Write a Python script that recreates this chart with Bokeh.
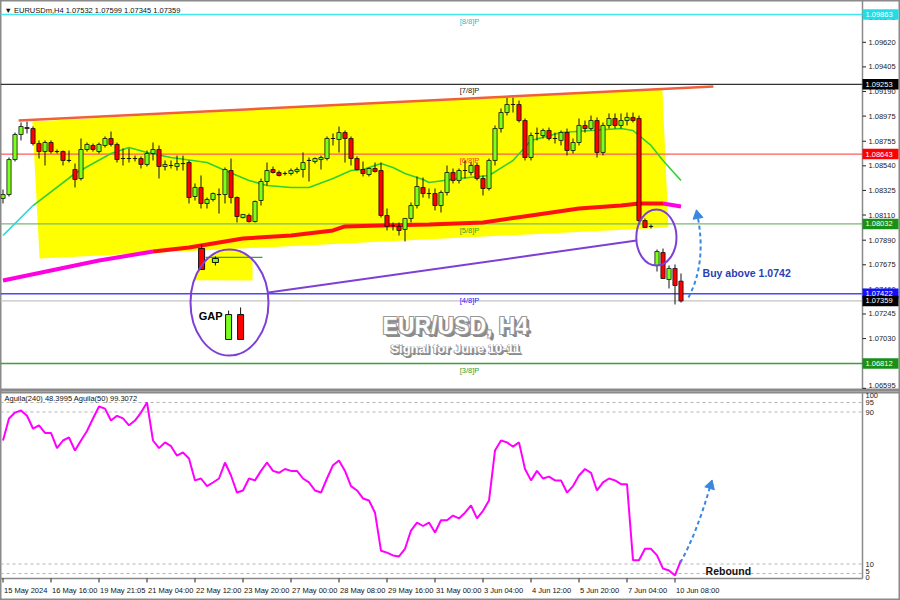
import numpy as np
from bokeh.plotting import figure
from bokeh.models import Range1d, Label
from bokeh.layouts import column
from bokeh.embed import file_html
from bokeh.resources import INLINE
from bokeh.core.properties import value

# ---------------- data (EURUSD H4) ----------------
opens = [1.08255, 1.08289, 1.08595, 1.08814, 1.08875, 1.08866, 1.08735, 1.08665, 1.08744, 1.08665,
         1.08665, 1.08587, 1.08508, 1.08429, 1.08683, 1.08718, 1.08665, 1.08718, 1.08779, 1.08727,
         1.08604, 1.08604, 1.08604, 1.08604, 1.08552, 1.08648, 1.08683, 1.08534, 1.08543, 1.08534,
         1.08560, 1.08569, 1.08272, 1.08351, 1.08211, 1.08246, 1.08289, 1.08289, 1.08499, 1.08263,
         1.08088, 1.08106, 1.08053, 1.08237, 1.08403, 1.08508, 1.08482, 1.08473, 1.08473, 1.08491,
         1.08508, 1.08587, 1.08578, 1.08595, 1.08604, 1.08779, 1.08770, 1.08831, 1.08779, 1.08604,
         1.08508, 1.08464, 1.08517, 1.08499, 1.08106, 1.08018, 1.08010, 1.07984, 1.08080, 1.08193,
         1.08351, 1.08298, 1.08298, 1.08193, 1.08307, 1.08482, 1.08412, 1.08499, 1.08482, 1.08543,
         1.08429, 1.08342, 1.08587, 1.08866, 1.09006, 1.09076, 1.09076, 1.08936, 1.08613, 1.08823,
         1.08805, 1.08849, 1.08779, 1.08762, 1.08831, 1.08674, 1.08744, 1.08893, 1.08866, 1.08936,
         1.08657, 1.08893, 1.08954, 1.08893, 1.08936, 1.08963, 1.08954, 1.08062, 1.08010, 1.07669,
         1.07782, 1.07546, 1.07643, 1.07532]
highs = [1.08333, 1.08613, 1.08831, 1.08919, 1.08928, 1.08884, 1.08762, 1.08762, 1.08762, 1.08683,
         1.08674, 1.08674, 1.08560, 1.08779, 1.08744, 1.08735, 1.08744, 1.08797, 1.08840, 1.08744,
         1.08692, 1.08692, 1.08630, 1.08622, 1.08674, 1.08744, 1.08718, 1.08587, 1.08587, 1.08630,
         1.08630, 1.08587, 1.08386, 1.08456, 1.08263, 1.08307, 1.08342, 1.08526, 1.08604, 1.08272,
         1.08115, 1.08123, 1.08237, 1.08429, 1.08569, 1.08534, 1.08499, 1.08491, 1.08517, 1.08526,
         1.08657, 1.08613, 1.08613, 1.08630, 1.08797, 1.08823, 1.08884, 1.08849, 1.08797, 1.08622,
         1.08578, 1.08526, 1.08569, 1.08569, 1.08167, 1.08045, 1.08045, 1.08080, 1.08220, 1.08447,
         1.08438, 1.08342, 1.08342, 1.08325, 1.08543, 1.08517, 1.08517, 1.08587, 1.08569, 1.08569,
         1.08456, 1.08604, 1.08893, 1.09041, 1.09137, 1.09137, 1.09111, 1.08954, 1.08831, 1.08875,
         1.08866, 1.08875, 1.08831, 1.08849, 1.08866, 1.08779, 1.08954, 1.08936, 1.08980, 1.08963,
         1.08919, 1.08998, 1.08998, 1.08998, 1.09006, 1.09006, 1.08980, 1.08080, 1.08027, 1.07809,
         1.07817, 1.07669, 1.07678, 1.07599]
lows = [1.08211, 1.08272, 1.08578, 1.08762, 1.08823, 1.08718, 1.08604, 1.08543, 1.08648, 1.08648,
        1.08543, 1.08569, 1.08351, 1.08412, 1.08665, 1.08665, 1.08648, 1.08700, 1.08709, 1.08569,
        1.08543, 1.08569, 1.08578, 1.08517, 1.08534, 1.08587, 1.08429, 1.08499, 1.08517, 1.08499,
        1.08499, 1.08211, 1.08237, 1.08167, 1.08167, 1.08228, 1.08123, 1.08211, 1.08211, 1.08045,
        1.08080, 1.08045, 1.08045, 1.08193, 1.08368, 1.08473, 1.08447, 1.08456, 1.08456, 1.08473,
        1.08438, 1.08403, 1.08560, 1.08508, 1.08587, 1.08718, 1.08657, 1.08569, 1.08543, 1.08499,
        1.08447, 1.08447, 1.08482, 1.08088, 1.07975, 1.07975, 1.07931, 1.07879, 1.08045, 1.08167,
        1.08263, 1.08255, 1.08150, 1.08132, 1.08281, 1.08386, 1.08386, 1.08429, 1.08456, 1.08412,
        1.08281, 1.08324, 1.08543, 1.08831, 1.08980, 1.09006, 1.08919, 1.08587, 1.08587, 1.08762,
        1.08779, 1.08762, 1.08735, 1.08718, 1.08630, 1.08648, 1.08718, 1.08831, 1.08849, 1.08613,
        1.08630, 1.08866, 1.08866, 1.08866, 1.08893, 1.08919, 1.08045, 1.08001, 1.07992, 1.07616,
        1.07555, 1.07468, 1.07328, 1.07345]
closes = [1.08289, 1.08595, 1.08814, 1.08884, 1.08866, 1.08735, 1.08665, 1.08744, 1.08665, 1.08665,
          1.08587, 1.08587, 1.08421, 1.08683, 1.08727, 1.08683, 1.08727, 1.08779, 1.08727, 1.08595,
          1.08604, 1.08604, 1.08604, 1.08552, 1.08648, 1.08683, 1.08534, 1.08552, 1.08543, 1.08560,
          1.08560, 1.08263, 1.08351, 1.08211, 1.08246, 1.08298, 1.08289, 1.08508, 1.08263, 1.08097,
          1.08115, 1.08053, 1.08228, 1.08403, 1.08499, 1.08482, 1.08456, 1.08473, 1.08499, 1.08508,
          1.08569, 1.08587, 1.08604, 1.08613, 1.08779, 1.08779, 1.08831, 1.08779, 1.08604, 1.08508,
          1.08473, 1.08517, 1.08491, 1.08106, 1.08010, 1.08018, 1.07975, 1.08080, 1.08193, 1.08359,
          1.08298, 1.08298, 1.08193, 1.08307, 1.08482, 1.08412, 1.08499, 1.08499, 1.08543, 1.08429,
          1.08342, 1.08587, 1.08866, 1.09006, 1.09076, 1.09076, 1.08936, 1.08613, 1.08805, 1.08823,
          1.08849, 1.08779, 1.08779, 1.08831, 1.08674, 1.08744, 1.08893, 1.08866, 1.08936, 1.08657,
          1.08893, 1.08954, 1.08893, 1.08936, 1.08963, 1.08936, 1.08062, 1.08001, 1.08010, 1.07791,
          1.07555, 1.07643, 1.07494, 1.07359]

# moving averages (bar index, price)
fast_idx = [0, 5, 12, 18, 21, 24, 28, 34, 37, 41, 44, 48, 51, 55, 58, 60, 63, 65, 67, 70, 71, 76,
            81, 85, 88, 93, 98, 103, 105, 108, 110, 113]
fast_val = [1.07931, 1.08193, 1.08473, 1.08648, 1.08700, 1.08657, 1.08613, 1.08569, 1.08499, 1.08412,
            1.08368, 1.08351, 1.08351, 1.08429, 1.08499, 1.08508, 1.08560, 1.08526, 1.08473, 1.08421,
            1.08394, 1.08429, 1.08456, 1.08587, 1.08762, 1.08831, 1.08849, 1.08866, 1.08849, 1.08718,
            1.08587, 1.08412]
slow_idx = [0, 8, 16, 25, 31, 40, 48, 55, 57, 63, 71, 80, 88, 96, 103, 106, 110, 113]
slow_val = [1.07538, 1.07625, 1.07712, 1.07791, 1.07826, 1.07905, 1.07931, 1.07975, 1.08010, 1.08018,
            1.08027, 1.08045, 1.08106, 1.08167, 1.08193, 1.08211, 1.08211, 1.08185]

# Aguila oscillator
aguila = [75, 86.6, 89.7, 90.8, 88, 81.3, 83, 79, 79, 71,
          75, 76.6, 69.7, 75, 80, 86.6, 92.9, 91.8, 85.5, 88,
          86.6, 83, 85.5, 89.7, 95, 75, 71, 74, 72, 67,
          68.7, 65.5, 54, 55, 51, 52.9, 55, 63.4, 56.6, 47.6,
          48.7, 55, 54, 59, 63.4, 59, 58, 60, 59, 59,
          55, 53, 48.7, 47.6, 55, 62, 64.5, 59, 51, 48.7,
          44.5, 43.4, 37, 17, 16, 14.5, 14, 18, 27.6, 31.8,
          30, 31.8, 26.6, 33, 33, 35.5, 34, 37, 40.8, 34,
          38, 43.4, 69.7, 75, 74, 71.8, 74, 60, 54, 59,
          55, 56, 54, 54, 47.6, 51, 56.6, 60, 58, 48.7,
          53, 55, 54, 52, 52, 12, 12, 18, 18, 14.5,
          7.6, 6.6, 4, 12]
aguila_levels = [95, 90, 10, 5]
aguila_ticks = [100, 95, 90, 10, 5, 0]

# Murray math levels
murray_levels = [1.09863, 1.09253, 1.08643, 1.08032, 1.07422, 1.06812]
murray_names = ["[8/8]P", "[7/8]P", "[6/8]P", "[5/8]P", "[4/8]P", "[3/8]P"]
bid_price = 1.07359

price_ticks = [1.06595, 1.06815, 1.07030, 1.07245, 1.07460, 1.07675, 1.07890, 1.08110, 1.08325,
               1.08540, 1.08755, 1.08975, 1.09190, 1.09405, 1.09620, 1.09840]
box_vals = [1.09863, 1.09253, 1.08643, 1.08032, 1.07422, 1.07359, 1.06812]
date_ticks = [0, 8, 16, 24, 32, 40, 48, 56, 64, 72, 80, 88, 96, 104, 112]
date_labels = ["15 May 2024", "16 May 16:00", "19 May 21:05", "21 May 04:00", "22 May 12:00",
               "23 May 20:00", "27 May 00:00", "28 May 08:00", "29 May 16:00", "31 May 00:00",
               "3 Jun 04:00", "4 Jun 12:00", "5 Jun 20:00", "7 Jun 04:00", "10 Jun 08:00"]

# channel drawing (bar index, price)
channel_x = [4.9, 109.9, 110.9, 6.1]
channel_y = [1.08928, 1.09216, 1.08001, 1.07730]
upper_x = [2.6, 118.4]
upper_y = [1.08936, 1.09234]

# ---------------- style / layout ----------------
FONT = "Liberation Sans"
W = 900
PPB = 6.0                       # px per bar
X0 = -2.5 / PPB                 # left edge of the canvas
X1 = (862 - 2.5) / PPB          # price-scale line
XR = (W - 2.5) / PPB            # right edge of the canvas
PH, QH = 390, 210
PPX = 0.00008742                # price per px
P1 = 1.099854
P0 = P1 - PPX * PH
APX = 1.9                       # px per oscillator unit
A_TOP = (582.5 - PH) / APX      # oscillator value at the top of the lower panel
A_BOT = (582.5 - 600) / APX
A_FRAME = (582.5 - 578) / APX   # bottom border of the oscillator window
A_SEP = (582.5 - 392) / APX
AXC = "#8a8a8a"
murray_line_colors = ["#40e8f0", "#333333", "#ff5a5a", "#78b878", "#4848ff", "#3aa03a"]
murray_text_colors = ["#00c8d0", "#222222", "#ff3030", "#2e9e2e", "#2020ff", "#2e9e2e"]
box_cols = ["#22dde6", "#000000", "#ff0000", "#1a8f1a", "#1010ff", "#000000", "#1a8f1a"]
PURPLE = "#7d3fd6"
ARROW = "#3a87e0"

o = np.array(opens); h = np.array(highs); l = np.array(lows); c = np.array(closes)
idx = np.arange(len(o))


def base_fig(height, yr):
    f = figure(width=W, height=height, x_range=Range1d(X0, XR), y_range=yr,
               output_backend="svg", toolbar_location=None, x_axis_location=None,
               y_axis_location=None, min_border_left=0, min_border_right=0,
               min_border_top=0, min_border_bottom=0)
    f.grid.visible = False
    return f


p = base_fig(PH, Range1d(P0, P1))
p.outline_line_color = AXC
p.outline_line_width = 2

# yellow channel
p.patch(channel_x, channel_y, fill_color="#ffff00", line_color=None)

# horizontal levels
nl = len(murray_levels)
p.segment(x0=[X0] * nl, x1=[X1] * nl, y0=murray_levels, y1=murray_levels,
          line_color=murray_line_colors, line_width=1.3)
p.segment(x0=[X0], x1=[X1], y0=[bid_price], y1=[bid_price], line_color="#c4c4c4", line_width=1.3)
p.text(x=[77.75] * nl, y=murray_levels, text=murray_names,
       text_color=murray_text_colors, text_font=value(FONT), text_font_size="7.5px",
       text_align="center", text_baseline="top", y_offset=2)

# moving averages
p.line(slow_idx[:4], slow_val[:4], line_color="#ff00e0", line_width=4)
p.line(slow_idx[3:17], slow_val[3:17], line_color="#ff1010", line_width=4)
p.line(slow_idx[16:], slow_val[16:], line_color="#ff00e0", line_width=4)
p.line(fast_idx[:2], fast_val[:2], line_color="#20d8e0", line_width=1.6)
p.line(fast_idx[1:], fast_val[1:], line_color="#30d030", line_width=1.6)

# candles
up = c >= o
cols = np.where(up, "#7cff1a", "#ff0000")
p.segment(x0=idx, y0=l, x1=idx, y1=h, line_color="#111111", line_width=1)
p.vbar(x=idx, width=0.7, top=np.maximum(o, c), bottom=np.minimum(o, c), fill_color=list(cols),
       line_color="#111111", line_width=0.8)

p.line(upper_x, upper_y, line_color="#f0603c", line_width=2.5)

# gap illustration (inset)
gap_cx, gap_cy, gap_w, gap_h = 37.75, 1.07345, 13.0, 0.00927
t = np.linspace(0, 2 * np.pi, 721)
ex = gap_cx + gap_w / 2 * np.cos(t)
ey = gap_cy + gap_h / 2 * np.sin(t)
patch_xr, patch_yb = 41.6, 1.07538
m = (ey >= patch_yb) & (ex <= patch_xr)
p.patch(list(ex[m]) + [patch_xr], list(ey[m]) + [patch_yb], fill_color="#ffff00", line_color=None)
p.line([33.75, 43.25], [1.07739, 1.07739], line_color="#3aa03a", line_width=1.3)
p.segment(x0=[33.1, 35.4], y0=[1.07634, 1.07669], x1=[33.1, 35.4], y1=[1.07853, 1.07748],
          line_color="#111111", line_width=1)
p.vbar(x=[33.1, 35.4], width=[1.0, 1.0], top=[1.07818, 1.07730], bottom=[1.07634, 1.07695],
       fill_color=["#ff0000", "#7cff1a"], line_color="#111111", line_width=1)
p.segment(x0=[37.6, 39.6], y0=[1.07022, 1.07022], x1=[37.6, 39.6], y1=[1.07275, 1.07302],
          line_color="#111111", line_width=1)
p.vbar(x=[37.6, 39.6], width=[1.0, 1.0], top=[1.07240, 1.07240], bottom=[1.07022, 1.07022],
       fill_color=["#7cff1a", "#ff0000"], line_color="#111111", line_width=1)
p.add_layout(Label(x=34.6, y=1.07223, text="GAP", text_font=FONT, text_font_size="11px",
                   text_font_style="bold", text_color="#000000", text_align="center",
                   text_baseline="middle"))

# purple connector and ellipses
p.line([44.25, 105.6], [1.07433, 1.07887], line_color=PURPLE, line_width=2)
p.ellipse(x=[gap_cx, 108.9], y=[gap_cy, 1.07913], width=[gap_w, 6.7], height=[gap_h, 0.0049],
          fill_color=None, line_color=PURPLE, line_width=2)

# blue dashed arrow (price)
p.quadratic(x0=[114.25], y0=[1.07389], x1=[115.75], y1=[1.08106], cx=[117.3], cy=[1.07695],
            line_color=ARROW, line_width=2, line_dash="4 3")
p.scatter(x=[115.75], y=[1.08106], marker="triangle", size=10, angle=0.18,
          fill_color=ARROW, line_color=ARROW)

p.add_layout(Label(x=116.6, y=1.07599, text="Buy above 1.0742", text_font=FONT,
                   text_font_size="10.5px", text_font_style="bold", text_color="#2a3fb5",
                   text_baseline="middle"))

# title with outline
tx, ty, sy = 75.4, 1.07144, 1.06940
for (dx, dy, col) in [(2, -2, "#6a6a6a"), (3, -3, "#8a8a8a"), (-1, -1, "#999999"), (1, 1, "#999999"),
                      (-1, 1, "#999999"), (1, -1, "#999999"), (0, 0, "#ffffff")]:
    p.add_layout(Label(x=tx, y=ty, x_offset=dx, y_offset=dy, text="EUR/USD, H4", text_font=FONT,
                       text_font_size="23px", text_font_style="bold", text_color=col,
                       text_align="center", text_baseline="middle"))
    p.add_layout(Label(x=tx, y=sy, x_offset=dx * 0.7, y_offset=dy * 0.7, text="Signal for June 10-11",
                       text_font=FONT, text_font_size="13px", text_font_style="bold", text_color=col,
                       text_align="center", text_baseline="middle"))

# header
p.add_layout(Label(x=X0, y=P1 - 10 * PPX, x_offset=4,
                   text="\u25bc EURUSDm,H4  1.07532 1.07599 1.07345 1.07359",
                   text_font=FONT, text_font_size="7.5px", text_color="#111111",
                   text_baseline="middle"))

# price scale drawn at the right of the chart area
nt = len(price_ticks)
p.segment(x0=[X1], x1=[X1], y0=[P0], y1=[P1], line_color=AXC, line_width=1.5)
p.segment(x0=[X1] * nt, x1=[X1 + 3.5 / PPB] * nt, y0=price_ticks, y1=price_ticks,
          line_color="#222222", line_width=1)
p.text(x=[X1] * (nt - 1), y=price_ticks[1:], text=["%.5f" % v for v in price_ticks[1:]], x_offset=6,
       text_font=value(FONT), text_font_size="7.5px", text_color="#222222", text_baseline="middle")
p.text(x=[X1], y=[P0 + 3 * PPX], text=["%.5f" % price_ticks[0]], x_offset=6,
       text_font=value(FONT), text_font_size="7.5px", text_color="#222222", text_baseline="bottom")
hh = 5.2 * PPX
nb = len(box_vals)
p.quad(left=[X1] * nb, right=[X1 + 36 / PPB] * nb, top=[v + hh for v in box_vals],
       bottom=[v - hh for v in box_vals], fill_color=box_cols, line_color=None)
p.text(x=[X1] * nb, y=box_vals, text=["%.5f" % v for v in box_vals], x_offset=3,
       text_font=value(FONT), text_font_size="7.5px", text_color="#ffffff", text_baseline="middle")

# ---------------- indicator panel (with the time scale under it) ----------------
q = base_fig(QH, Range1d(A_BOT, A_TOP))
q.outline_line_color = AXC
q.outline_line_width = 2

q.segment(x0=[X0], x1=[XR], y0=[A_SEP], y1=[A_SEP], line_color=AXC, line_width=2)
q.segment(x0=[X0], x1=[X1], y0=[A_FRAME], y1=[A_FRAME], line_color=AXC, line_width=1.5)
q.segment(x0=[X1], x1=[X1], y0=[A_FRAME], y1=[A_SEP], line_color=AXC, line_width=1.5)

na = len(aguila_levels)
q.segment(x0=[X0] * na, x1=[X1] * na, y0=aguila_levels, y1=aguila_levels,
          line_color="#b4b4b4", line_width=1, line_dash="3 3")
q.line(idx, aguila, line_color="#ff00ff", line_width=2)

q.text(x=[X1], y=[aguila_ticks[0]], text=[str(aguila_ticks[0])], x_offset=3,
       text_font=value(FONT), text_font_size="7.5px", text_color="#222222", text_baseline="top")
q.text(x=[X1] * 3, y=aguila_ticks[1:4], text=[str(v) for v in aguila_ticks[1:4]], x_offset=3,
       text_font=value(FONT), text_font_size="7.5px", text_color="#222222", text_baseline="middle")
q.text(x=[X1], y=[aguila_ticks[4]], text=[str(aguila_ticks[4])], x_offset=3,
       text_font=value(FONT), text_font_size="7.5px", text_color="#222222", text_baseline="bottom")
q.text(x=[X1], y=[A_FRAME - 1.0], text=[str(aguila_ticks[5])], x_offset=3,
       text_font=value(FONT), text_font_size="7.5px", text_color="#222222", text_baseline="bottom")

q.add_layout(Label(x=X0, y=(582.5 - 398) / APX, x_offset=4,
                   text="Aguila(240) 48.3995   Aguila(50) 99.3072",
                   text_font=FONT, text_font_size="7.5px", text_color="#111111",
                   text_baseline="middle"))

q.quadratic(x0=[112.9], y0=[10.8], x1=[117.9], y1=[51.3], cx=[115.6], cy=[26.0],
            line_color=ARROW, line_width=2, line_dash="4 3")
q.scatter(x=[117.9], y=[51.3], marker="triangle", size=10, angle=-0.3,
          fill_color=ARROW, line_color=ARROW)
q.add_layout(Label(x=117.1, y=6.1, text="Rebound", text_font=FONT, text_font_size="10.5px",
                   text_font_style="bold", text_color="#111111", text_baseline="middle"))

# time scale
nd = len(date_ticks)
q.segment(x0=date_ticks, x1=date_ticks, y0=[A_FRAME] * nd, y1=[A_FRAME - 4 / APX] * nd,
          line_color="#222222", line_width=1)
q.text(x=date_ticks, y=[(582.5 - 589.5) / APX] * nd, text=date_labels, x_offset=1,
       text_font=value(FONT), text_font_size="7.5px", text_color="#111111", text_baseline="middle")

layout = column(p, q, spacing=0)
open("out.html", "w").write(file_html(layout, INLINE))
